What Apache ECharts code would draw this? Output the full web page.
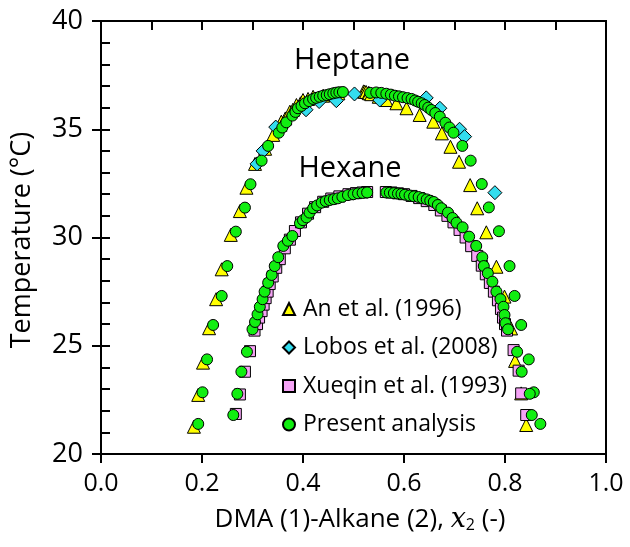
<!DOCTYPE html>
<html>
<head>
<meta charset="utf-8">
<script src="https://cdn.jsdelivr.net/npm/echarts@6/dist/echarts.min.js"></script>
<style>html,body{margin:0;padding:0;background:#fff}#c{width:630px;height:547px}</style>
</head>
<body>
<div id="c"></div>
<script>
// ---- data (x2, T in °C) ----
const anHeptane = [
 [0.184,21.26],[0.1925,22.73],[0.202,24.22],[0.214,25.81],[0.228,27.15],[0.239,28.53],[0.257,30.12],[0.275,31.22],[0.288,32.30],
 [0.305,33.40],[0.325,34.10],[0.341,34.74],[0.355,35.20],[0.357,35.35],[0.365,35.50],[0.374,35.81],[0.380,35.90],[0.387,36.12],
 [0.395,36.20],[0.400,36.35],[0.410,36.40],[0.420,36.50],[0.440,36.55],[0.460,36.62],[0.470,36.66],
 [0.520,36.75],[0.522,36.73],[0.525,36.72],[0.530,36.68],[0.531,36.66],[0.535,36.62],
 [0.550,36.50],[0.565,36.35],[0.585,36.20],[0.605,35.97],[0.631,35.66],[0.658,35.35],[0.675,34.81],[0.692,34.19],[0.709,33.50],
 [0.731,32.42],[0.745,31.35],[0.763,30.24],[0.783,28.65],[0.799,27.27],[0.812,25.80],[0.820,24.30],[0.832,22.80],[0.842,21.34]
];
const lobosHeptane = [
 [0.309,33.40],[0.321,34.00],[0.346,35.10],[0.406,35.90],[0.432,36.28],[0.466,36.32],[0.502,36.63],
 [0.552,36.35],[0.644,36.45],[0.671,35.97],[0.710,35.00],[0.720,34.66],[0.780,32.07]
];
const xueqinHexane = [
 [0.267,21.85],[0.275,22.75],[0.285,23.80],[0.295,24.75],[0.304,25.70],[0.309,26.00],[0.313,26.30],[0.318,26.60],[0.322,26.90],
 [0.326,27.20],[0.330,27.50],[0.334,27.85],[0.340,28.20],[0.347,28.60],[0.354,29.00],[0.364,29.50],[0.374,29.90],[0.384,30.30],
 [0.396,30.70],[0.410,31.10],[0.424,31.40],[0.440,31.65],[0.456,31.80],[0.472,31.90],[0.490,32.00],[0.505,32.05],[0.518,32.08],[0.527,32.10],
 [0.564,32.10],[0.575,32.08],[0.588,32.04],[0.600,32.00],[0.615,31.92],[0.630,31.82],[0.645,31.68],[0.660,31.50],[0.673,31.25],
 [0.686,31.00],[0.698,30.70],[0.710,30.35],[0.722,30.00],[0.733,29.60],[0.745,29.15],[0.754,28.70],[0.762,28.30],[0.770,27.90],
 [0.778,27.50],[0.786,27.10],[0.792,26.70],[0.796,26.30],[0.800,26.00],[0.804,25.70],[0.817,24.80],[0.827,23.85],[0.832,22.80],[0.842,21.80]
];
const presentHeptane = [
 [0.1925,21.39],[0.201,22.85],[0.210,24.37],[0.222,25.96],[0.239,27.30],[0.250,28.68],[0.267,30.27],[0.285,31.38],[0.296,32.46],
 [0.318,33.55],[0.331,34.23],[0.352,34.84],[0.359,35.08],[0.367,35.32],[0.379,35.63],[0.385,35.80],[0.390,35.97],[0.397,36.08],
 [0.404,36.20],[0.412,36.30],[0.420,36.40],[0.426,36.45],[0.433,36.50],[0.440,36.55],[0.447,36.58],[0.453,36.62],[0.460,36.66],
 [0.466,36.69],[0.472,36.71],[0.479,36.72],
 [0.533,36.68],[0.545,36.70],[0.555,36.68],[0.565,36.64],[0.574,36.60],[0.582,36.55],[0.590,36.52],[0.598,36.48],[0.607,36.44],
 [0.615,36.40],[0.622,36.33],[0.628,36.27],[0.635,36.20],[0.641,36.12],[0.648,36.00],[0.654,35.89],[0.662,35.75],[0.671,35.58],
 [0.682,35.30],[0.690,35.08],[0.698,34.84],[0.7155,34.23],[0.732,33.55],[0.754,32.47],[0.768,31.39],[0.788,30.29],[0.809,28.68],
 [0.819,27.30],[0.832,25.96],[0.847,24.37],[0.857,22.85],[0.870,21.39]
];
const presentHexane = [
 [0.262,21.80],[0.270,22.78],[0.278,23.80],[0.289,24.72],[0.300,25.76],[0.305,26.10],[0.310,26.45],[0.3145,26.80],[0.320,27.15],
 [0.324,27.50],[0.331,27.91],[0.338,28.27],[0.344,28.68],[0.351,29.09],[0.361,29.61],[0.370,29.85],[0.379,30.07],[0.394,30.66],
 [0.400,30.80],[0.407,30.93],[0.413,31.15],[0.420,31.35],[0.428,31.48],[0.437,31.61],[0.445,31.68],[0.453,31.73],[0.461,31.77],
 [0.469,31.81],[0.478,31.88],[0.489,31.96],[0.500,32.00],[0.509,32.04],[0.518,32.06],[0.527,32.08],
 [0.565,32.08],[0.572,32.07],[0.580,32.05],[0.588,32.03],[0.595,32.01],[0.602,31.98],[0.611,31.94],[0.620,31.90],
 [0.629,31.87],[0.637,31.81],[0.645,31.76],[0.652,31.70],[0.659,31.64],[0.667,31.50],[0.674,31.35],[0.687,31.15],[0.696,30.90],
 [0.704,30.68],[0.716,30.47],[0.729,30.04],[0.743,29.61],[0.755,29.09],[0.758,28.68],[0.766,28.35],[0.775,27.96],[0.783,27.50],
 [0.791,27.15],[0.797,26.80],[0.799,26.42],[0.801,26.04],[0.806,25.76],[0.824,24.72],[0.833,23.80],[0.849,22.78],[0.853,21.80]
];
const seriesNames = ['An et al. (1996)','Lobos et al. (2008)','Xueqin et al. (1993)','Present analysis'];
const xTicks = {min:0, max:1, step:0.2};
const yTicks = {min:20, max:40, step:5};
const curveLabels = ['Heptane','Hexane'];

const FONT = '"Open Sans", sans-serif';
const chart = echarts.init(document.getElementById('c'), null, {renderer:'canvas'});
const axisBase = {
  type:'value', splitLine:{show:false},
  axisLine:{show:true, onZero:false, lineStyle:{color:'#000', width:2}}
};
const option = {
  backgroundColor:'#fff',
  animation:false,
  grid:{left:101, right:24, top:21, bottom:93, show:true, borderColor:'#000', borderWidth:2},
  xAxis:[
    Object.assign({}, axisBase, {min:xTicks.min, max:xTicks.max, interval:xTicks.step,
      axisTick:{show:true, inside:false, length:9, lineStyle:{color:'#000', width:2}},
      axisLabel:{show:true, margin:17, color:'#000', fontSize:25, fontFamily:FONT, formatter:v=>v.toFixed(1)}}),
    Object.assign({}, axisBase, {min:xTicks.min, max:xTicks.max, interval:xTicks.step,
      axisTick:{show:true, inside:true, length:9, lineStyle:{color:'#000', width:2}},
      minorTick:{show:true, splitNumber:2, length:9, lineStyle:{color:'#000', width:2}},
      axisLabel:{show:false}})
  ],
  yAxis:[
    Object.assign({}, axisBase, {min:yTicks.min, max:yTicks.max, interval:yTicks.step,
      axisTick:{show:true, inside:false, length:9, lineStyle:{color:'#000', width:2}},
      axisLabel:{show:true, margin:18, color:'#000', fontSize:27, fontFamily:FONT}}),
    Object.assign({}, axisBase, {min:yTicks.min, max:yTicks.max, interval:yTicks.step, position:'left',
      axisTick:{show:true, inside:true, length:9, lineStyle:{color:'#000', width:2}},
      minorTick:{show:true, splitNumber:5, length:9, lineStyle:{color:'#000', width:2}},
      axisLabel:{show:false}})
  ],
  legend:{
    orient:'vertical', left:277, top:291, itemWidth:12, itemHeight:12, itemGap:12.5,
    textStyle:{color:'#000', fontSize:23, fontFamily:FONT, lineHeight:26, padding:[0,0,0,3]},
    data:[
      {name:seriesNames[0], icon:'triangle'},
      {name:seriesNames[1], icon:'diamond'},
      {name:seriesNames[2], icon:'rect'},
      {name:seriesNames[3], icon:'circle'}
    ]
  },
  series:[
    {name:seriesNames[0], type:'scatter', data:anHeptane, symbol:'triangle', symbolSize:13,
      itemStyle:{color:'#FFFF00', borderColor:'#000', borderWidth:1, opacity:1}},
    {name:seriesNames[1], type:'scatter', data:lobosHeptane, symbol:'diamond', symbolSize:14,
      itemStyle:{color:'#33DDEE', borderColor:'#000', borderWidth:1, opacity:1}},
    {name:seriesNames[2], type:'scatter', data:xueqinHexane, symbol:'rect', symbolSize:11,
      itemStyle:{color:'#F5A3F5', borderColor:'#000', borderWidth:1, opacity:1}},
    {name:seriesNames[3], type:'scatter', data:presentHeptane.concat(presentHexane), symbol:'circle', symbolSize:11,
      itemStyle:{color:'#11EE11', borderColor:'#000', borderWidth:1, opacity:1}}
  ],
  graphic:[
    {type:'text', x:352, y:61, style:{text:curveLabels[0], fill:'#000', font:'29px "Open Sans", sans-serif', textAlign:'center', textVerticalAlign:'middle'}},
    {type:'text', x:350, y:169, style:{text:curveLabels[1], fill:'#000', font:'29px "Open Sans", sans-serif', textAlign:'center', textVerticalAlign:'middle'}},
    {type:'text', x:22, y:240, rotation:Math.PI/2,
      style:{text:'Temperature (°C)', fill:'#000', font:'27px "Open Sans", sans-serif', textAlign:'center', textVerticalAlign:'middle'}},
    {type:'text', x:360, y:520,
      style:{text:'{n|DMA (1)-Alkane (2), }{i|x}{s|2}{n| (-)}', textAlign:'center', textVerticalAlign:'middle',
        rich:{
          n:{fontSize:26, fontFamily:FONT, color:'#000'},
          i:{fontSize:27, fontFamily:'"DejaVu Serif", serif', fontStyle:'italic', color:'#000'},
          s:{fontSize:16, fontFamily:FONT, color:'#000', padding:[10,0,0,0]}
        }}}
  ]
};
chart.setOption(option);
</script>
</body>
</html>
